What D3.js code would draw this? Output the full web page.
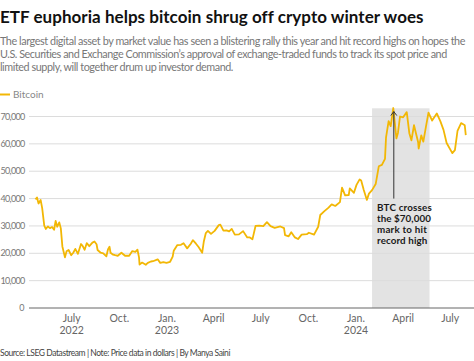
<!DOCTYPE html>
<html><head><meta charset="utf-8">
<script src="https://cdn.jsdelivr.net/npm/d3@7"></script>
<style>html,body{margin:0;padding:0;background:#fff;overflow:hidden}svg{display:block}</style>
</head><body><svg id="c" width="474" height="361"></svg>
<script>
const dates = ["2022-04-22","2022-04-25","2022-04-28","2022-05-02","2022-05-05","2022-05-09","2022-05-12","2022-05-16","2022-05-20","2022-05-24","2022-05-28","2022-05-31","2022-06-03","2022-06-07","2022-06-10","2022-06-13","2022-06-18","2022-06-21","2022-06-25","2022-06-30","2022-07-04","2022-07-08","2022-07-13","2022-07-19","2022-07-22","2022-07-26","2022-07-30","2022-08-04","2022-08-10","2022-08-14","2022-08-18","2022-08-20","2022-08-26","2022-08-31","2022-09-06","2022-09-09","2022-09-12","2022-09-14","2022-09-19","2022-09-23","2022-09-28","2022-10-05","2022-10-12","2022-10-20","2022-10-26","2022-11-01","2022-11-05","2022-11-08","2022-11-09","2022-11-14","2022-11-21","2022-11-25","2022-12-01","2022-12-05","2022-12-14","2022-12-19","2022-12-25","2022-12-31","2023-01-07","2023-01-12","2023-01-14","2023-01-21","2023-01-28","2023-02-02","2023-02-09","2023-02-16","2023-02-20","2023-02-26","2023-03-03","2023-03-10","2023-03-13","2023-03-17","2023-03-21","2023-03-27","2023-04-03","2023-04-11","2023-04-14","2023-04-20","2023-04-26","2023-05-01","2023-05-06","2023-05-12","2023-05-20","2023-05-28","2023-06-05","2023-06-10","2023-06-15","2023-06-21","2023-06-28","2023-07-06","2023-07-13","2023-07-20","2023-07-28","2023-08-08","2023-08-15","2023-08-17","2023-08-24","2023-08-29","2023-09-05","2023-09-11","2023-09-18","2023-09-28","2023-10-02","2023-10-12","2023-10-20","2023-10-24","2023-11-01","2023-11-09","2023-11-15","2023-11-22","2023-12-01","2023-12-05","2023-12-11","2023-12-18","2023-12-20","2023-12-28","2024-01-02","2024-01-08","2024-01-11","2024-01-16","2024-01-22","2024-01-26","2024-02-01","2024-02-08","2024-02-14","2024-02-20","2024-02-26","2024-02-28","2024-03-04","2024-03-08","2024-03-13","2024-03-19","2024-03-22","2024-03-26","2024-04-01","2024-04-08","2024-04-13","2024-04-17","2024-04-22","2024-04-30","2024-05-01","2024-05-06","2024-05-10","2024-05-15","2024-05-20","2024-05-27","2024-06-05","2024-06-12","2024-06-18","2024-06-24","2024-07-05","2024-07-10","2024-07-15","2024-07-22","2024-07-29","2024-07-31"];
const bitcoin = [39700,40400,38200,39500,36500,30100,28900,29800,29200,29600,28600,31800,29700,31300,29100,22500,18500,20700,21200,19300,20200,21600,19800,23400,22700,21300,23700,22600,23900,24300,23300,21200,20200,20000,18900,21400,22400,20200,19500,19300,19100,20200,19100,19100,20800,20500,21300,18500,15900,16600,15800,16500,17000,17100,17800,16500,16800,16500,16900,18800,20900,23000,23100,23700,21800,23500,24800,23500,22300,20200,24200,27400,28200,27100,28200,30300,30500,28300,28400,28000,28900,26800,26900,28100,25800,25800,25100,30000,30100,29900,31400,29900,29300,29800,29200,26600,26200,27700,25800,25200,26800,27000,27500,26800,29700,34000,35400,36700,37900,37300,38700,44000,41200,41300,43700,42100,45000,47000,46600,43100,39500,41800,43100,45300,51800,52300,54500,62400,68300,66500,73100,62000,64000,70000,69700,71600,63900,61300,66800,60600,58300,63100,60800,66200,71400,68500,71100,68200,65100,60300,56600,57700,64700,67600,66800,63200];
const yTicks = [0,10000,20000,30000,40000,50000,60000,70000];
const xTickDates = ["2022-07-01","2022-10-01","2023-01-01","2023-04-01","2023-07-01","2023-10-01","2024-01-01","2024-04-01","2024-07-01"];
const xTickLabels = [["July","2022"],["Oct."],["Jan.","2023"],["April"],["July"],["Oct."],["Jan.","2024"],["April"],["July"]];
const shade = ["2024-02-01","2024-05-22"];
const annotDate = "2024-03-14";
const annotLines = ["BTC crosses","the $70,000","mark to hit","record high"];
const title = "ETF euphoria helps bitcoin shrug off crypto winter woes";
const subtitle = ["The largest digital asset by market value has seen a blistering rally this year and hit record highs on hopes the","U.S. Securities and Exchange Commission’s approval of exchange-traded funds to track its spot price and","limited supply, will together drum up investor demand."];
const source = "Source: LSEG Datastream | Note: Price data in dollars | By Manya Saini";

const parse = d3.utcParse("%Y-%m-%d");
const data = dates.map((d,i)=>({date:parse(d), v:bitcoin[i]}));
const svg = d3.select("#c");
const FONT = "Lato, 'Noto Sans', sans-serif";
const W = 474, left = 29, bottom = 308;

const x = d3.scaleUtc().domain([parse("2022-07-01"), parse("2024-01-01")]).range([71.7, 356]);
const y = d3.scaleLinear().domain([0, 70000]).range([bottom, 116.5]);

// adjust letter spacing so the text spans the target width
function fit(sel, w){
  const n = sel.text().length;
  const nat = sel.node().getComputedTextLength();
  sel.attr("letter-spacing", ((w - nat) / n).toFixed(3));
  return sel;
}

// title
fit(svg.append("text").attr("x",0).attr("y",23).attr("font-family",FONT).attr("font-weight","bold")
  .attr("font-size",17).attr("fill","#111").text(title), 423);
const subW = [465, 447, 233];
subtitle.forEach((s,i)=>{
  fit(svg.append("text").attr("x",0).attr("y",45+i*13).attr("font-family",FONT).attr("font-size",10.8)
   .attr("fill","#777").text(s), subW[i]);
});
// legend
svg.append("line").attr("x1",0).attr("x2",10).attr("y1",94.5).attr("y2",94.5).attr("stroke","#f2b705").attr("stroke-width",2);
svg.append("text").attr("x",13).attr("y",98).attr("font-family",FONT).attr("font-size",10).attr("fill","#888").text("Bitcoin");

// shaded region
svg.append("rect").attr("x",x(parse(shade[0]))).attr("width",x(parse(shade[1]))-x(parse(shade[0])))
  .attr("y",y(73000)).attr("height",bottom-y(73000)).attr("fill","#e3e3e3");

// grid
svg.append("g").selectAll("line").data(yTicks.filter(d=>d>0)).join("line")
  .attr("x1",left).attr("x2",W).attr("y1",d=>y(d)).attr("y2",d=>y(d)).attr("stroke","#dcdcdc").attr("stroke-width",1);
svg.append("g").selectAll("text").data(yTicks).join("text")
  .attr("x",24.5).attr("y",d=>y(d)).attr("dy","0.35em").attr("text-anchor","end")
  .attr("font-family",FONT).attr("font-size",9).attr("fill","#777").text(d=>d3.format(",")(d))
  .each(function(d){ if (d > 0) fit(d3.select(this), 24); });

// line
svg.append("path").datum(data).attr("fill","none").attr("stroke","#f2b705").attr("stroke-width",1.8)
  .attr("stroke-linejoin","round").attr("d", d3.line().x(d=>x(d.date)).y(d=>y(d.v)));

// axis line
svg.append("line").attr("x1",left).attr("x2",W).attr("y1",bottom).attr("y2",bottom).attr("stroke","#666").attr("stroke-width",1);
const xt = svg.append("g").selectAll("text").data(xTickDates).join("text")
  .attr("x",d=>x(parse(d))).attr("text-anchor","middle").attr("font-family",FONT).attr("font-size",10.5).attr("fill","#666");
xt.each(function(d,i){
  const t = d3.select(this);
  xTickLabels[i].forEach((l,j)=>t.append("tspan").attr("x",x(parse(d))).attr("y",322+j*11.5).text(l));
});

// annotation
const ax = x(parse(annotDate));
svg.append("line").attr("x1",ax).attr("x2",ax).attr("y1",y(40000)).attr("y2",y(71800)).attr("stroke","#333").attr("stroke-width",1);
svg.append("path").attr("d",`M${ax-3},${y(71800)+4}L${ax},${y(71800)}L${ax+3},${y(71800)+4}`).attr("fill","none").attr("stroke","#333").attr("stroke-width",1);
const annW = [55, 54, 50, 50.5];
annotLines.forEach((l,i)=>{
  fit(svg.append("text").attr("x",377).attr("y",211+i*11).attr("font-family",FONT).attr("font-weight","bold")
    .attr("font-size",9.8).attr("fill","#1a1a1a").text(l), annW[i]);
});

// source
fit(svg.append("text").attr("x",0).attr("y",356).attr("font-family",FONT).attr("font-size",8.5).attr("fill","#444").text(source), 230);
</script></body></html>
